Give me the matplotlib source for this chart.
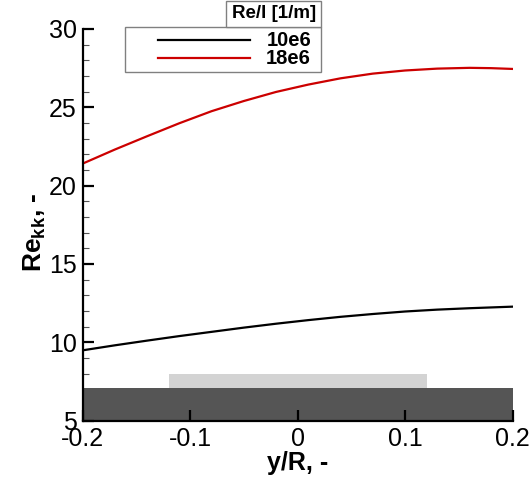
import matplotlib
matplotlib.use("Agg")
import matplotlib.pyplot as plt
from matplotlib.patches import Rectangle
from matplotlib.lines import Line2D
from matplotlib.ticker import MultipleLocator

plt.rcParams["font.family"] = ["Liberation Sans", "DejaVu Sans"]
plt.rcParams["mathtext.fontset"] = "custom"
plt.rcParams["mathtext.rm"] = "Liberation Sans"
plt.rcParams["mathtext.bf"] = "Liberation Sans:bold"
plt.rcParams["axes.unicode_minus"] = False

# y/R positions
y_r = [-0.2, -0.17, -0.14, -0.11, -0.08, -0.05, -0.02, 0.01, 0.04, 0.07, 0.10, 0.13, 0.16, 0.18, 0.2]
# Re_kk for Re/l = 10e6 and 18e6
re_10e6 = [9.48, 9.80, 10.10, 10.39, 10.66, 10.93, 11.18, 11.41, 11.62, 11.80, 11.96, 12.08, 12.17, 12.22, 12.27]
re_18e6 = [21.40, 22.30, 23.15, 23.98, 24.75, 25.40, 25.98, 26.45, 26.85, 27.15, 27.35, 27.47, 27.52, 27.50, 27.45]
labels = ["10e6", "18e6"]
colors = ["black", "#cc0000"]

# shaded regions (wall / model)
wall_x = [-0.2, 0.2]
wall_top = 7.1
model_x = [-0.12, 0.12]
model_top = 8.0

xticks = [-0.2, -0.1, 0, 0.1, 0.2]
xticklabels = ["-0.2", "-0.1", "0", "0.1", "0.2"]
yticks = [5, 10, 15, 20, 25, 30]

fig = plt.figure(figsize=(5.3, 4.8), dpi=100)
ax = fig.add_axes([82.5 / 530, 1 - 420.5 / 480, 430 / 530, 391.5 / 480])

ax.add_patch(Rectangle((wall_x[0], 5), wall_x[1] - wall_x[0], wall_top - 5,
                       facecolor="#555555", edgecolor="none", zorder=1))
ax.add_patch(Rectangle((model_x[0], wall_top), model_x[1] - model_x[0], model_top - wall_top,
                       facecolor="#d3d3d3", edgecolor="none", zorder=1))

for vals, lab, c in zip([re_10e6, re_18e6], labels, colors):
    ax.plot(y_r, vals, color=c, lw=1.6, label=lab, zorder=3)

ax.set_xlim(-0.2, 0.2)
ax.set_ylim(5, 30)
ax.set_xticks(xticks)
ax.set_xticklabels(xticklabels)
ax.set_yticks(yticks)
ax.xaxis.set_minor_locator(MultipleLocator(0.02))
ax.yaxis.set_minor_locator(MultipleLocator(1))
ax.tick_params(which="major", direction="in", length=8, width=1.6, labelsize=18, pad=4)
ax.tick_params(axis="x", which="major", pad=5)
ax.tick_params(which="minor", direction="in", length=4, width=0.8, color="#555555")
ax.spines["top"].set_visible(False)
ax.spines["right"].set_visible(False)
ax.spines["left"].set_linewidth(1.6)
ax.spines["bottom"].set_linewidth(1.6)
for s in ax.spines.values():
    s.set_zorder(5)

ax.set_xlabel("y/R, -", fontsize=18, fontweight="bold", labelpad=0)
ax.set_ylabel(r"$\mathbf{Re_{kk}}$, -", fontsize=19, fontweight="bold")
ax.yaxis.set_label_coords(-0.08, 0.48)

# legend drawn by hand, Tecplot style
box_edge = "#808080"
fig.add_artist(Rectangle((125 / 530, 1 - 72 / 480), 196 / 530, 45 / 480,
                         transform=fig.transFigure, facecolor="white", edgecolor=box_edge, lw=1))
fig.add_artist(Rectangle((226 / 530, 1 - 27 / 480), 95 / 530, 26 / 480,
                         transform=fig.transFigure, facecolor="white", edgecolor=box_edge, lw=1))
fig.text(274.5 / 530, 1 - 14 / 480, "Re/l [1/m]", fontsize=13.5, fontweight="bold",
         ha="center", va="center")
for i, (lab, c) in enumerate(zip(labels, colors)):
    yy = 1 - (40 + 18 * i) / 480
    fig.add_artist(Line2D([158 / 530, 250 / 530], [yy, yy], transform=fig.transFigure,
                          color=c, lw=1.6))
    fig.text(311 / 530, yy, lab, fontsize=14.5, fontweight="bold", ha="right", va="center")

fig.savefig("out.png", dpi=100)
